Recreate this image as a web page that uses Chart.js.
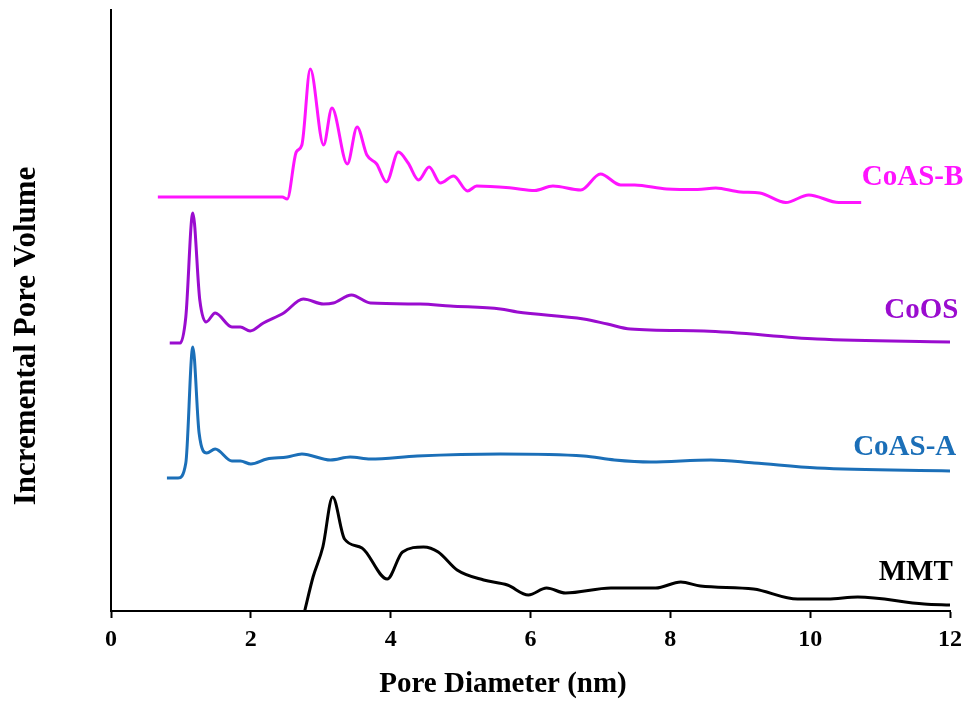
<!DOCTYPE html>
<html>
<head>
<meta charset="utf-8">
<title>Pore size distribution</title>
<script src="https://cdn.jsdelivr.net/npm/chart.js@4/dist/chart.umd.min.js"></script>
<style>
  html, body { margin: 0; padding: 0; background: #fff; }
  #wrap { width: 969px; height: 704px; }
</style>
</head>
<body>
<div id="wrap"><canvas id="psd" width="969" height="704"></canvas></div>
<script>
/*------------------
   Data (curves are stacked: values are offset heights, arbitrary units)
--------------------*/
var xTicks = [0, 2, 4, 6, 8, 10, 12];

var mmtX = [2.77, 2.89, 3.03, 3.17, 3.34, 3.59, 3.95, 4.17, 4.47, 4.68, 4.95, 5.33, 5.67, 5.97, 6.23, 6.50, 7.15, 7.79, 8.15, 8.43, 9.19, 9.82, 10.25, 10.68, 11.63, 12.0];
var mmtY = [0, 34, 64, 114, 72, 63, 32, 59, 64, 59, 41, 31, 26, 16, 23, 18, 23, 23, 29, 25, 22, 12, 12, 14, 7, 6];

var coasAX = [0.80, 0.96, 1.07, 1.17, 1.26, 1.37, 1.49, 1.73, 1.85, 2.00, 2.23, 2.52, 2.73, 3.14, 3.42, 3.71, 4.38, 5.57, 6.76, 7.20, 7.72, 8.58, 9.20, 10.10, 12.0];
var coasAY = [133, 133, 148, 264, 178, 158, 162, 150, 150, 147, 152, 154, 157, 151, 154, 152, 155, 157, 155, 151, 149, 151, 148, 143, 140];

var coosX = [0.84, 0.99, 1.07, 1.17, 1.27, 1.36, 1.49, 1.73, 1.85, 1.99, 2.18, 2.47, 2.75, 3.04, 3.18, 3.44, 3.71, 4.42, 4.85, 5.57, 5.81, 6.76, 7.10, 7.43, 8.48, 10.10, 12.0];
var coosY = [268, 268, 294, 398, 311, 289, 298, 284, 284, 280, 288, 298, 312, 307, 308, 316, 308, 307, 305, 302, 299, 292, 287, 282, 280, 272, 269];

var coasBX = [0.67, 2.45, 2.52, 2.65, 2.73, 2.85, 3.04, 3.16, 3.38, 3.52, 3.66, 3.80, 3.94, 4.11, 4.25, 4.40, 4.55, 4.71, 4.90, 5.10, 5.23, 5.73, 6.06, 6.32, 6.72, 7.00, 7.29, 7.49, 7.95, 8.39, 8.65, 9.00, 9.28, 9.65, 9.98, 10.41, 10.73];
var coasBY = [414, 414, 412, 459, 466, 542, 466, 503, 447, 484, 456, 447, 429, 459, 448, 431, 444, 428, 435, 420, 425, 423, 420.5, 425, 421, 437, 426, 426, 422, 421.5, 423, 419, 418, 408.5, 416, 408.5, 408.5];

var seriesNames = ["MMT", "CoAS-A", "CoOS", "CoAS-B"];
var seriesColors = ["#000000", "#1b6fb8", "#9a0ccf", "#ff14ff"];

function toPoints(xs, ys) {
    return xs.map(function (x, i) { return { x: x, y: ys[i] }; });
}

var serif = "'Liberation Serif', 'Times New Roman', serif";

/*------------------
   Curve name labels + axis titles
--------------------*/
var curveLabels = {
    id: 'curveLabels',
    afterDatasetsDraw: function (chart, args, opts) {
        var ctx = chart.ctx;
        var xs = chart.scales.x, ys = chart.scales.y;
        ctx.save();
        ctx.font = "bold 29px " + serif;
        ctx.textAlign = "right";
        ctx.textBaseline = "alphabetic";
        opts.anchors.forEach(function (a, i) {
            ctx.fillStyle = seriesColors[i];
            ctx.fillText(seriesNames[i], xs.getPixelForValue(a[0]), ys.getPixelForValue(a[1]));
        });
        ctx.restore();
    }
};

var axisTitles = {
    id: 'axisTitles',
    afterDraw: function (chart, args, opts) {
        var ctx = chart.ctx;
        ctx.save();
        ctx.fillStyle = '#000';
        ctx.textAlign = 'center';
        ctx.textBaseline = 'middle';
        ctx.font = "bold 29px " + serif;
        ctx.fillText(opts.xText, opts.xPos[0], opts.xPos[1]);
        ctx.translate(opts.yPos[0], opts.yPos[1]);
        ctx.rotate(-Math.PI / 2);
        ctx.font = "bold 31px " + serif;
        ctx.fillText(opts.yText, 0, 0);
        ctx.restore();
    }
};

var sets = [toPoints(mmtX, mmtY), toPoints(coasAX, coasAY), toPoints(coosX, coosY), toPoints(coasBX, coasBY)];

var chart = new Chart(document.getElementById("psd"), {
    type: 'line',
    data: {
        datasets: sets.map(function (pts, i) {
            return {
                label: seriesNames[i],
                data: pts,
                borderColor: seriesColors[i],
                borderWidth: 3,
                pointRadius: 0,
                fill: false,
                cubicInterpolationMode: 'monotone'
            };
        })
    },
    options: {
        responsive: false,
        animation: false,
        layout: { padding: { top: 10, right: 19, left: 0, bottom: 0 } },
        plugins: {
            legend: { display: false },
            tooltip: { enabled: false },
            curveLabels: { anchors: [[12.04, 31], [12.09, 156], [12.12, 293], [12.19, 426]] },
            axisTitles: {
                xText: 'Pore Diameter (nm)', xPos: [503, 685],
                yText: 'Incremental Pore Volume', yPos: [27, 336]
            }
        },
        scales: {
            x: {
                type: 'linear',
                min: 0,
                max: 12,
                afterBuildTicks: function (scale) {
                    scale.ticks = xTicks.map(function (v) { return { value: v }; });
                },
                afterFit: function (scale) { scale.height = 93; },
                ticks: {
                    color: '#000',
                    padding: 7,
                    font: { family: serif, size: 24, weight: 'bold' }
                },
                grid: {
                    drawOnChartArea: false,
                    drawTicks: true,
                    tickLength: 7,
                    tickWidth: 2,
                    tickColor: '#000'
                },
                border: { display: true, color: '#000', width: 2 }
            },
            y: {
                min: 0,
                max: 601,
                afterFit: function (scale) { scale.width = 111; },
                ticks: { display: false },
                grid: { display: false },
                border: { display: true, color: '#000', width: 2 }
            }
        }
    },
    plugins: [curveLabels, axisTitles]
});
</script>
</body>
</html>
